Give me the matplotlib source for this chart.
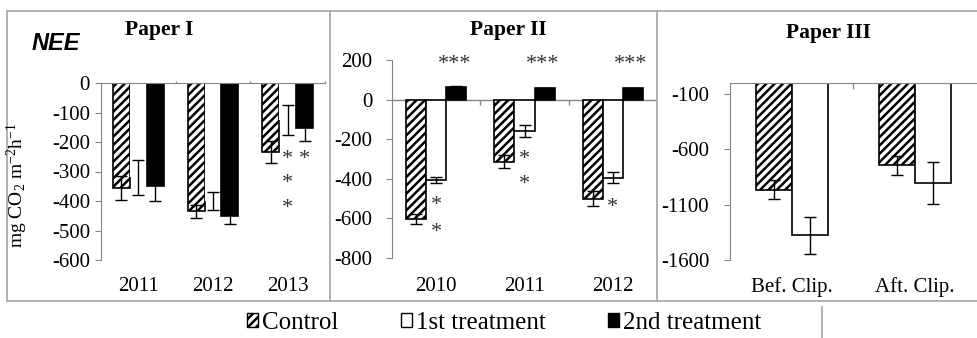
import matplotlib
matplotlib.use('Agg')
import matplotlib.pyplot as plt
from matplotlib.patches import Patch
from matplotlib.lines import Line2D
import numpy as np

plt.rcParams['font.family'] = ['Liberation Serif', 'DejaVu Serif']
plt.rcParams['mathtext.fontset'] = 'custom'
plt.rcParams['mathtext.rm'] = 'Liberation Serif'
plt.rcParams['mathtext.it'] = 'Liberation Serif:italic'
plt.rcParams['axes.unicode_minus'] = False
plt.rcParams['hatch.linewidth'] = 1.8

W, H = 978, 338
GREY = '#868686'
FS = 15

# Paper I
years1 = ['2011', '2012', '2013']
ctrl1 = [-355, -435, -233]
ctrl1_err = [40, 22, 38]
tr1_1 = [-320, -400, -125]
tr1_1_err = [58, 30, 50]
tr2_1 = [-350, -450, -152]
tr2_1_err = [50, 27, 46]
# (category, series, y)
stars1 = [(2, 1, -261), (2, 2, -261), (2, 1, -339), (2, 1, -424)]

# Paper II
years2 = ['2010', '2011', '2012']
ctrl2 = [-605, -313, -500]
ctrl2_err = [25, 34, 37]
tr1_2 = [-405, -158, -395]
tr1_2_err = [15, 29, 27]
tr2_2 = [65, 58, 58]
tr2_2_err = [4, 3, 3]
stars2 = [(0, 1, -535), (0, 1, -670), (1, 1, -300), (1, 1, -430), (2, 1, -545)]
stars2_top = [(0, 175), (1, 175), (2, 175)]

# Paper III
clips3 = ['Bef. Clip.', 'Aft. Clip.']
ctrl3 = [-965, -745]
ctrl3_err = [88, 85]
tr1_3 = [-1375, -905]
tr1_3_err = [168, 190]


def rect(l, t, r, b):
    return [l / W, 1 - b / H, (r - l) / W, (b - t) / H]


fig = plt.figure(figsize=(W / 100, H / 100), dpi=100)

ax1 = fig.add_axes(rect(101, 83, 325, 260))
ax2 = fig.add_axes(rect(392, 60, 657, 258))
ax3 = fig.add_axes(rect(730, 83, 977, 260))


def draw(ax, cats, series, width, first_edge):
    x = np.arange(len(cats))
    n = len(series)
    for i, (vals, err) in enumerate(series):
        xs = x + (i - (n - 1) / 2) * width
        if i == 0:
            ax.bar(xs, vals, width, color='white', edgecolor='black', hatch='////', linewidth=1.2, zorder=2)
        elif i == 1:
            ax.bar(xs, vals, width, color='white', edgecolor=first_edge, linewidth=1.2, zorder=2)
        else:
            ax.bar(xs, vals, width, color='black', edgecolor='black', linewidth=1.2, zorder=2)
        ax.errorbar(xs, vals, yerr=err, fmt='none', ecolor='black', elinewidth=1, capsize=4, capthick=1, zorder=3)
    ax.set_xlim(-0.5, len(cats) - 0.5)
    ax.set_xticks(x)
    ax.set_xticklabels(cats)
    ax.tick_params(axis='x', length=0, labelsize=FS, pad=12)
    ax.tick_params(axis='y', length=4, color=GREY, labelsize=FS)
    for s in ['right', 'bottom']:
        ax.spines[s].set_visible(False)
    ax.spines['left'].set_color(GREY)
    ax.spines['top'].set_color(GREY)
    return x


w1 = 0.227
x1 = draw(ax1, years1, [(ctrl1, ctrl1_err), (tr1_1, tr1_1_err), (tr2_1, tr2_1_err)], w1, 'none')
ax1.set_ylim(-600, 0)
ax1.set_yticks(range(-600, 1, 100))
ax1.tick_params(axis='y', pad=4)
ax1.vlines([0.5, 1.5, 2.5], 0, 8, color=GREY, lw=1, clip_on=False)
for c, s, y in stars1:
    ax1.text(c + (s - 1) * w1, y, '*', ha='center', va='center', fontsize=16, color='#333333')

w2 = 0.227
x2 = draw(ax2, years2, [(ctrl2, ctrl2_err), (tr1_2, tr1_2_err), (tr2_2, tr2_2_err)], w2, 'black')
ax2.set_ylim(-800, 200)
ax2.set_yticks(range(-800, 201, 200))
ax2.spines['top'].set_visible(False)
ax2.axhline(0, color=GREY, lw=1, zorder=1)
ax2.vlines([0.5, 1.5], 0, -25, color=GREY, lw=1)
ax2.tick_params(axis='y', pad=10)
ax2.tick_params(axis='x', pad=14)
for c, s, y in stars2:
    ax2.text(c + (s - 1) * w2, y, '*', ha='center', va='center', fontsize=16, color='#333333')
for c, y in stars2_top:
    ax2.text(c + 0.9 * w2, y, '***', ha='center', va='center', fontsize=16, color='#333333')

w3 = 0.29
x3 = draw(ax3, clips3, [(ctrl3, ctrl3_err), (tr1_3, tr1_3_err)], w3, 'black')
ax3.set_ylim(-1600, 0)
ax3.set_yticks([-1600, -1100, -600, -100])
ax3.vlines([0.5], 0, -50, color=GREY, lw=1)
ax3.tick_params(axis='y', pad=11)

# titles
fig.text(159 / W, 1 - 30 / H, 'Paper I', ha='center', va='center', fontsize=15.5, fontweight='bold')
fig.text(508 / W, 1 - 30 / H, 'Paper II', ha='center', va='center', fontsize=15.5, fontweight='bold')
fig.text(828 / W, 1 - 33 / H, 'Paper III', ha='center', va='center', fontsize=15.5, fontweight='bold')
fig.text(56 / W, 1 - 44 / H, 'NEE', ha='center', va='center', fontsize=17, fontweight='bold',
         fontstyle='italic', family='Liberation Sans')
fig.text(17 / W, 1 - 185 / H, r'mg CO$_2$ m$^{-2}$h$^{-1}$', rotation=90, ha='center', va='center', fontsize=14)

# panel borders
def fline(xs, ys):
    fig.add_artist(Line2D([x / W for x in xs], [1 - y / H for y in ys], color='#a6a6a6', lw=1.2))

fline([7, 978], [10.5, 10.5])
fline([7, 978], [301, 301])
fline([7, 7], [10.5, 301])
fline([330, 330], [10.5, 301])
fline([657, 657], [10.5, 301])
fline([822, 822], [307, 338])

handles = [Patch(facecolor='white', edgecolor='black', hatch='////'),
           Patch(facecolor='white', edgecolor='black'),
           Patch(facecolor='black', edgecolor='black')]
fig.legend(handles, ['Control', '1st treatment', '2nd treatment'], loc='center',
           bbox_to_anchor=(504 / W, 1 - 323 / H), ncol=3, frameon=False, fontsize=18,
           handlelength=0.45, handleheight=0.45, handletextpad=0.15, columnspacing=2.5,
           borderpad=0, borderaxespad=0)

fig.savefig('out.png', dpi=100)
